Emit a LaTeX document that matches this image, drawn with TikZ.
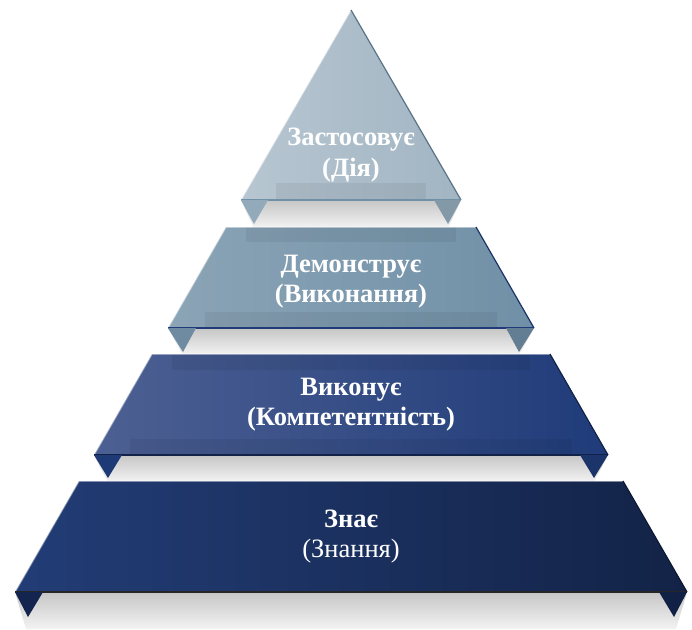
\documentclass[tikz,border=0pt]{standalone}
\usepackage{fontspec}
\setmainfont{Liberation Serif}
\definecolor{PeakL}{HTML}{B7C6D1}
\definecolor{PeakR}{HTML}{A2B5C3}
\definecolor{PeakFlap}{HTML}{93AABB}
\definecolor{ShowL}{HTML}{8BA4B6}
\definecolor{ShowR}{HTML}{7090A7}
\definecolor{ShowFlap}{HTML}{6E8BA2}
\definecolor{DoL}{HTML}{4D6093}
\definecolor{DoR}{HTML}{1F3B79}
\definecolor{DoFlap}{HTML}{1E3A76}
\definecolor{KnowL}{HTML}{223D76}
\definecolor{KnowR}{HTML}{132347}
\definecolor{KnowFlap}{HTML}{13254E}
\definecolor{ShelfTop}{HTML}{C6C6C6}
\definecolor{ShelfBot}{HTML}{F3F3F3}
\tikzset{
  shelf/.style={top color=ShelfTop,bottom color=ShelfBot},
  bevel/.style={fill=black,fill opacity=0.06},
  shine/.style={draw=white,draw opacity=0.45,line width=1.5pt},
  rim/.style={line width=1.2pt},
  lbl/.style={text=white,font=\bfseries\fontsize{26.5}{30}\selectfont,anchor=base,inner sep=0pt},
  sublbl/.style={lbl,font=\fontsize{26.5}{30}\selectfont}
}

\begin{document}
\begin{tikzpicture}[x=1pt,y=-1pt]
  \useasboundingbox (0,0) rectangle (692,629);
  % shelves under every level
  \shade[shelf] (241,200) -- (461,200) -- (448,228) -- (254,228) -- cycle;
  \shade[shelf] (168,328) -- (534,328) -- (519,355) -- (183,355) -- cycle;
  \shade[shelf] (94,455) -- (608,455) -- (594,482) -- (108,482) -- cycle;
  \shade[shelf] (15,592) -- (687,592) -- (676,629) -- (26,629) -- cycle;

  % peak
  \shade[left color=PeakL,right color=PeakR] (351,10) -- (461,200) -- (241,200) -- cycle;
  \fill[bevel] (276,183) rectangle (426,200);
  \draw[shine] (241,200) -- (351,10);
  \draw[rim,draw=ShowR!80!black] (351,10) -- (461,200);
  \draw[rim,draw=ShowR] (241,200) -- (461,200);
  \fill[PeakFlap] (241,200) -- (268,200) -- (254,224) -- cycle;
  \fill[PeakFlap!90!black] (461,200) -- (434,200) -- (448,224) -- cycle;

  % second level
  \shade[left color=ShowL,right color=ShowR] (226,227) -- (476,227) -- (534,328) -- (168,328) -- cycle;
  \fill[bevel] (246,227) rectangle (456,242);
  \fill[bevel] (205,312) rectangle (497,328);
  \draw[shine] (168,328) -- (226,227) -- (476,227);
  \draw[rim,draw=DoR!85!black] (476,227) -- (534,328);
  \draw[rim,draw=DoR] (168,328) -- (534,328);
  \fill[ShowFlap] (168,328) -- (196,328) -- (183,352) -- cycle;
  \fill[ShowFlap!90!black] (534,328) -- (506,328) -- (519,352) -- cycle;

  % third level
  \shade[left color=DoL,right color=DoR] (152,354) -- (550,354) -- (608,455) -- (94,455) -- cycle;
  \fill[bevel] (172,354) rectangle (530,370);
  \fill[bevel] (130,439) rectangle (572,455);
  \draw[shine] (94,455) -- (152,354) -- (550,354);
  \draw[rim,draw=KnowR] (550,354) -- (608,455);
  \draw[rim,draw=KnowR] (94,455) -- (608,455);
  \fill[DoFlap] (94,455) -- (122,455) -- (108,478) -- cycle;
  \fill[DoFlap!90!black] (608,455) -- (580,455) -- (594,478) -- cycle;

  % base level
  \shade[left color=KnowL,right color=KnowR] (79,481) -- (623,481) -- (687,592) -- (15,592) -- cycle;
  \draw[shine] (15,592) -- (79,481) -- (623,481);
  \draw[rim,draw=KnowR!70!black] (623,481) -- (687,592);
  \draw[rim,draw=black!85] (15,592) -- (687,592);
  \fill[KnowFlap] (15,592) -- (43,592) -- (28,617) -- cycle;
  \fill[KnowFlap!90!black] (687,592) -- (659,592) -- (674,617) -- cycle;

  % labels
  \node[lbl] (apply) at (351,145) {Застосовує};
  \node[lbl] (applysub) at (351,176) {(Дія)};
  \node[lbl] (show) at (351,272) {Демонструє};
  \node[lbl] (showsub) at (351,302) {(Виконання)};
  \node[lbl] (does) at (351,395) {Виконує};
  \node[lbl] (doessub) at (351,425) {(Компетентність)};
  \node[lbl] (knows) at (351,527) {Знає};
  \node[sublbl] (knowssub) at (351,557) {(Знання)};
\end{tikzpicture}
\end{document}
